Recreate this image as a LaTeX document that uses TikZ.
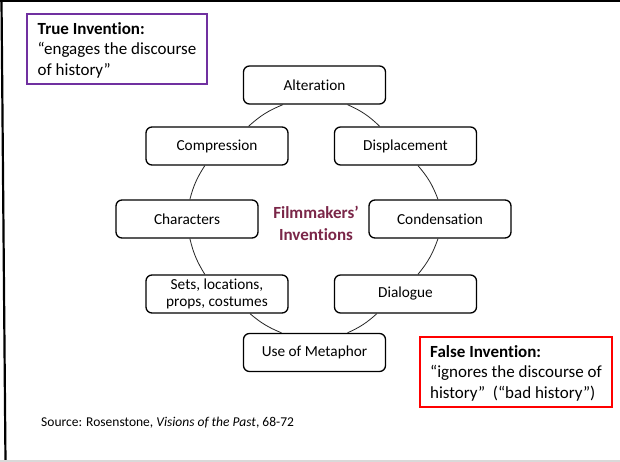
\documentclass[tikz,border=0pt]{standalone}
\usepackage{fontspec}
\setmainfont{Carlito}[Ligatures=CommonOff]
\usetikzlibrary{calc}
\definecolor{filmred}{RGB}{122,38,72}
\definecolor{truepurple}{RGB}{112,48,160}
\definecolor{falsered}{RGB}{255,0,0}
\definecolor{rulegray}{RGB}{217,217,217}
\begin{document}
\begin{tikzpicture}[x=1pt,y=1pt,
  invbox/.style={draw=black,line width=1.3pt,rounded corners=6pt,fill=white,
    minimum width=142pt,minimum height=38pt,inner sep=2pt,align=center,
    font=\fontsize{15.3}{16.5}\selectfont},
  cyc/.style={draw=black!85,line width=0.8pt},
  notebox/.style={line width=2pt,minimum height=70pt,inner xsep=7pt,
    align=left,anchor=center,text depth=0pt,
    font=\fontsize{17}{20.5}\selectfont}]
\useasboundingbox (0,0) rectangle (620,462);
% slide frame
\fill[white] (0,0) rectangle (620,462);
\fill[black] (0,459.5) rectangle (620,462);
\draw[black,line width=2.2pt] (1.5,462) -- (5.5,0);
\fill[rulegray] (0,0) rectangle (620,2);

% cycle of inventions
\node[invbox] (alt)  at (314.5,377) {Alteration};
\node[invbox] (comp) at (217,316)   {Compression};
\node[invbox] (disp) at (405.5,316) {Displacement};
\node[invbox] (char) at (187,243)   {Characters};
\node[invbox] (cond) at (440,243)   {Condensation};
\node[invbox] (sets) at (217,168)   {Sets, locations,\\props, costumes};
\node[invbox] (dial) at (405.5,168) {Dialogue};
\node[invbox] (uom)  at (314.5,109.5) {Use of Metaphor};

\node[text=filmred,align=center,font=\fontsize{17}{22}\selectfont\bfseries]
  (film) at (316,239) {Filmmakers’\\Inventions};

% arcs joining neighbouring boxes
\draw[cyc] ($(alt.south west)!0.28!(alt.south east)$) to[bend right=10]
           ($(comp.north west)!0.72!(comp.north east)$);
\draw[cyc] ($(comp.south west)!0.415!(comp.south east)$) to[bend right=9]
           ($(char.north west)!0.52!(char.north east)$);
\draw[cyc] ($(char.south west)!0.52!(char.south east)$) to[bend right=9]
           ($(sets.north west)!0.415!(sets.north east)$);
\draw[cyc] ($(sets.south west)!0.73!(sets.south east)$) to[bend right=9]
           ($(uom.north west)!0.27!(uom.north east)$);
\draw[cyc] ($(uom.north west)!0.73!(uom.north east)$) to[bend right=9]
           ($(dial.south west)!0.30!(dial.south east)$);
\draw[cyc] ($(dial.north west)!0.587!(dial.north east)$) to[bend right=10]
           ($(cond.south west)!0.486!(cond.south east)$);
\draw[cyc] ($(cond.north west)!0.486!(cond.north east)$) to[bend right=10]
           ($(disp.south west)!0.587!(disp.south east)$);
\draw[cyc] ($(disp.north west)!0.32!(disp.north east)$) to[bend right=10]
           ($(alt.south west)!0.73!(alt.south east)$);

% notes
\node[notebox,draw=truepurple,minimum width=180pt] (true) at (117,413)
  {\textbf{True Invention:}\\“engages the discourse\\of history”\hfill\null};
\node[notebox,draw=falsered,minimum width=192pt] (false) at (516,90)
  {\textbf{False Invention:}\\“ignores the discourse of\\history”\ \ (“bad history”)};

\node[anchor=west,inner sep=0pt,font=\fontsize{13.5}{16}\selectfont] (src) at (41,39)
  {Source: Rosenstone, \textit{Visions of the Past}, 68-72};
\end{tikzpicture}
\end{document}
